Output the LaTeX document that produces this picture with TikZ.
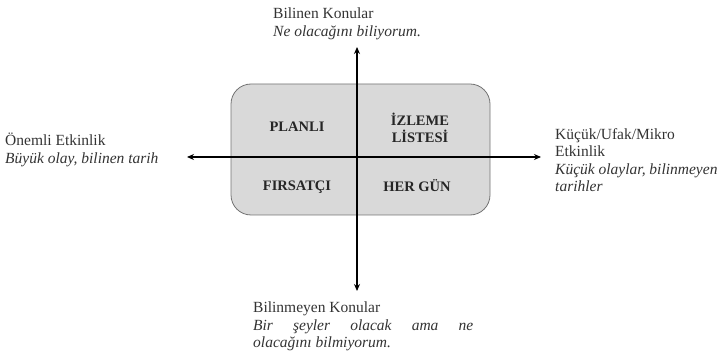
\documentclass[tikz,border=0pt]{standalone}
\usepackage{fontspec}
\setmainfont{Liberation Serif}
\usetikzlibrary{arrows.meta}
\tikzset{
  lbl/.style={anchor=north west, inner sep=0pt, align=left, font=\fontsize{15.5}{17.5}\selectfont, text=black!80},
  quad/.style={inner sep=0pt, align=center, font=\fontsize{14.5}{17}\selectfont\bfseries, text=black!85},
  axis/.style={line width=1.1pt, -{Stealth[length=7pt,width=6pt]}},
}
\begin{document}
\begin{tikzpicture}[x=1pt,y=-1pt]
\useasboundingbox (0,0) rectangle (725,355);
\node[draw=black!55, fill=black!15, rounded corners=20pt, minimum width=259pt, minimum height=131pt, line width=0.8pt] (box) at (360.5,149.5) {};
\coordinate (c) at (357,157);
\coordinate (t) at (357,47);
\coordinate (b) at (357,291);
\coordinate (l) at (187,157);
\coordinate (r) at (541,157);
\draw[axis] (c) -- (t);
\draw[axis] (c) -- (b);
\draw[axis] (c) -- (l);
\draw[axis] (c) -- (r);
\node[quad] (q1) at (297,127) {PLANLI};
\node[quad] (q2) at (420,128) {İZLEME\\LİSTESİ};
\node[quad] (q3) at (297,187) {FIRSATÇI};
\node[quad] (q4) at (417,186) {HER GÜN};
\node[lbl] (top) at (273,8) {Bilinen Konular\\\textit{Ne olacağını biliyorum.}};
\node[lbl] (left) at (5,133) {Önemli Etkinlik\\\textit{Büyük olay, bilinen tarih}};
\node[lbl] (right) at (555,128) {Küçük/Ufak/Mikro\\Etkinlik\\\textit{Küçük olaylar, bilinmeyen}\\\textit{tarihler}};
\node[lbl] (bot) at (253,302) {Bilinmeyen Konular\\\hbox to 220pt{\itshape Bir\hfill şeyler\hfill olacak\hfill ama\hfill ne}\\\textit{olacağını bilmiyorum.}};
\end{tikzpicture}
\end{document}
